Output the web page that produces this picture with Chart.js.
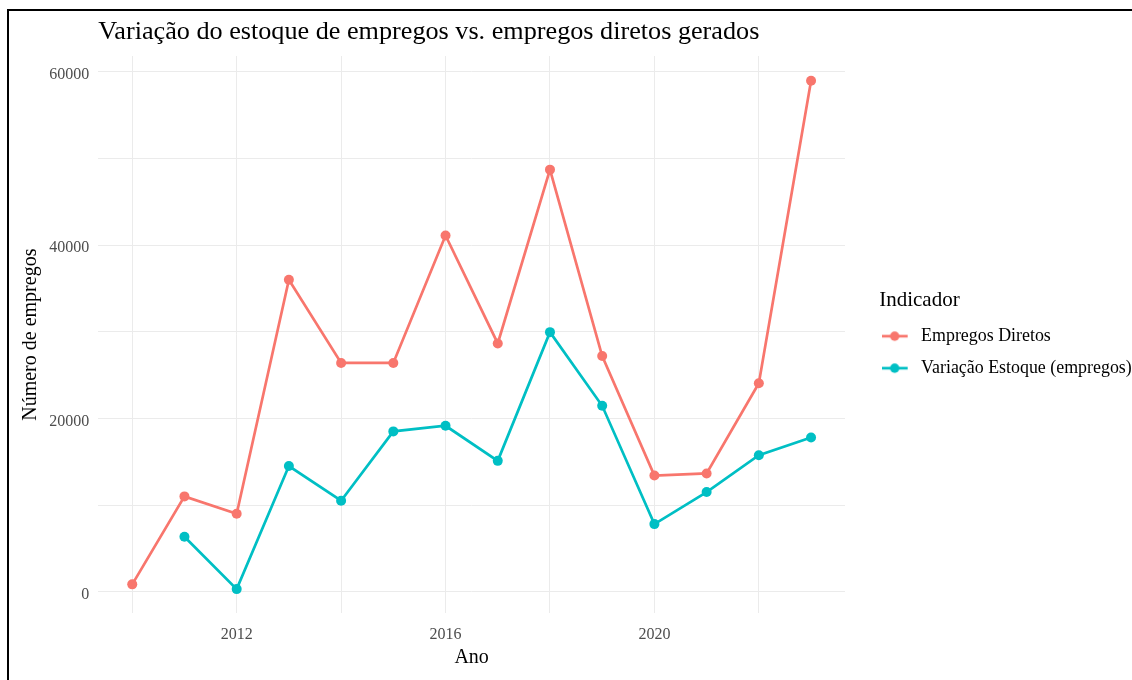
<!DOCTYPE html>
<html>
<head>
<meta charset="utf-8">
<script src="https://cdn.jsdelivr.net/npm/chart.js@4.4.0/dist/chart.umd.min.js"></script>
<style>
  html, body { margin: 0; padding: 0; background: #fff; overflow: hidden; }
  #frame { position: absolute; left: 7px; top: 9px; width: 2000px; height: 2000px;
           border-left: 2px solid #000; border-top: 2px solid #000; }
  /* canvas deslocado para a esquerda para a legenda ter largura suficiente */
  #chart { position: absolute; left: -400px; top: 0; }
</style>
</head>
<body>
<div id="frame"></div>
<canvas id="chart" width="1536" height="680"></canvas>
<script>
// dados
var anos = [2010, 2011, 2012, 2013, 2014, 2015, 2016, 2017, 2018, 2019, 2020, 2021, 2022, 2023];
var empregosDiretos = [850, 11000, 9000, 36000, 26400, 26400, 41100, 28650, 48700, 27200, 13400, 13650, 24050, 58950];
var variacaoEstoque = [null, 6350, 300, 14500, 10500, 18500, 19150, 15100, 29950, 21450, 7800, 11500, 15750, 17800];
var nomesSeries = ["Empregos Diretos", "Variação Estoque (empregos)"];
var coresSeries = ["#F8766D", "#00BFC4"];
var xGrid = [2010, 2012, 2014, 2016, 2018, 2020, 2022];
var xLabels = [2012, 2016, 2020];
var yGrid = [0, 10000, 20000, 30000, 40000, 50000, 60000];
var yLabels = [0, 20000, 40000, 60000];

Chart.defaults.font.family = "'Liberation Serif', 'Times New Roman', serif";

function pontos(valores) {
    var out = [];
    for (var i = 0; i < anos.length; i++) {
        if (valores[i] !== null) out.push({ x: anos[i], y: valores[i] });
    }
    return out;
}

// icone da legenda: linha com ponto
function icone(cor) {
    var c = document.createElement("canvas");
    c.width = 30;
    c.height = 12;
    var g = c.getContext("2d");
    g.strokeStyle = cor;
    g.lineWidth = 2.7;
    g.beginPath();
    g.moveTo(0, 6);
    g.lineTo(26, 6);
    g.stroke();
    g.fillStyle = cor;
    g.beginPath();
    g.arc(13, 6, 4.7, 0, Math.PI * 2);
    g.fill();
    return c;
}
var icones = coresSeries.map(icone);

var ctx = document.getElementById("chart");
var lineChart = new Chart(ctx, {
    type: 'line',
    data: {
        datasets: [{
            label: nomesSeries[0],
            data: pontos(empregosDiretos),
            borderColor: coresSeries[0],
            backgroundColor: coresSeries[0],
            pointBackgroundColor: coresSeries[0],
            borderWidth: 2.7,
            pointRadius: 5,
            pointBorderWidth: 0,
            fill: false
        }, {
            label: nomesSeries[1],
            data: pontos(variacaoEstoque),
            borderColor: coresSeries[1],
            backgroundColor: coresSeries[1],
            pointBackgroundColor: coresSeries[1],
            borderWidth: 2.7,
            pointRadius: 5,
            pointBorderWidth: 0,
            fill: false
        }]
    },
    options: {
        responsive: false,
        animation: false,
        layout: { padding: { left: 0, right: 1, top: 8, bottom: 6 } },
        plugins: {
            tooltip: { enabled: false },
            title: {
                display: true,
                text: "Variação do estoque de empregos vs. empregos diretos gerados",
                align: 'start',
                fullSize: false,
                color: "#000",
                font: { size: 26.2, weight: 'normal', lineHeight: 1.2 },
                padding: { top: 8.3, bottom: 8.3 }
            },
            legend: {
                position: 'right',
                align: 'start',
                title: {
                    display: true,
                    text: "Indicador",
                    position: 'start',
                    color: "#000",
                    font: { size: 21, lineHeight: 1.2 },
                    padding: { top: 281.5, bottom: 10.5 }
                },
                labels: {
                    usePointStyle: true,
                    pointStyleWidth: 31,
                    padding: 2,
                    color: "#000",
                    font: { size: 17.9, lineHeight: '30px' },
                    generateLabels: function (chart) {
                        var items = Chart.defaults.plugins.legend.labels.generateLabels(chart);
                        items.forEach(function (it, i) {
                            it.pointStyle = icones[i];
                            it.text = [it.text];
                        });
                        return items;
                    }
                }
            }
        },
        scales: {
            x: {
                type: 'linear',
                min: 2009.35,
                max: 2023.65,
                afterBuildTicks: function (scale) {
                    scale.ticks = xGrid.map(function (v) { return { value: v }; });
                },
                afterFit: function (scale) { scale.height = 60.7; },
                ticks: {
                    autoSkip: false,
                    maxRotation: 0,
                    padding: 12,
                    color: "#4D4D4D",
                    font: { size: 16, lineHeight: 1.2 },
                    callback: function (v) { return xLabels.indexOf(v) >= 0 ? String(v) : ''; }
                },
                grid: { color: "#EBEBEB", lineWidth: 1, drawTicks: false },
                border: { display: false },
                title: {
                    display: true,
                    text: "Ano",
                    color: "#000",
                    font: { size: 20, lineHeight: 1.2 },
                    padding: { top: 1.5, bottom: 4 }
                }
            },
            y: {
                min: -2490,
                max: 61810,
                afterBuildTicks: function (scale) {
                    scale.ticks = yGrid.map(function (v) { return { value: v }; });
                },
                afterFit: function (scale) { scale.width = 498.3; },
                ticks: {
                    autoSkip: false,
                    padding: 9,
                    labelOffset: 3,
                    color: "#4D4D4D",
                    font: { size: 16, lineHeight: 1.2 },
                    callback: function (v) { return yLabels.indexOf(v) >= 0 ? String(v) : ''; }
                },
                grid: { color: "#EBEBEB", lineWidth: 1, drawTicks: false },
                border: { display: false },
                title: {
                    display: true,
                    text: "Número de empregos",
                    color: "#000",
                    font: { size: 20, lineHeight: 1.2 },
                    padding: { top: 419, bottom: 4 }
                }
            },
            // espaco vazio entre o painel e a legenda
            gap: {
                axis: 'y',
                position: 'right',
                display: true,
                grid: { display: false, drawTicks: false },
                border: { display: false },
                ticks: { display: false },
                afterFit: function (scale) { scale.width = 34.17; }
            }
        }
    }
});
</script>
</body>
</html>
